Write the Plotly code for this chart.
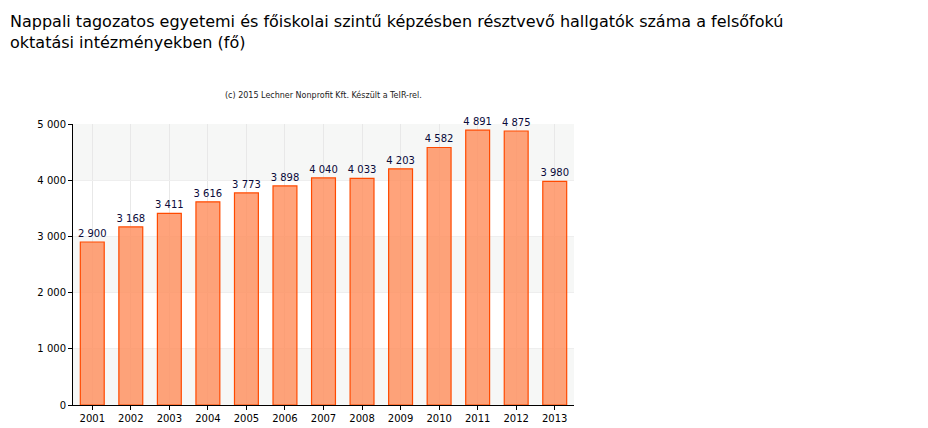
import plotly.graph_objects as go

years = ["2001","2002","2003","2004","2005","2006","2007","2008","2009","2010","2011","2012","2013"]
values = [2900,3168,3411,3616,3773,3898,4040,4033,4203,4582,4891,4875,3980]
labels = [f"{v:,}".replace(",", " ") for v in values]

fig = go.Figure(go.Bar(
    x=years, y=values, text=labels, textposition="outside", cliponaxis=False,
    textfont=dict(family="DejaVu Sans", size=10, color="#0a0a3a"),
    marker=dict(color="rgba(255,140,90,0.8)", line=dict(color="#ff4a00", width=1.2)),
    width=0.62,
))
shapes = []
for y0 in (0, 2000, 4000):
    shapes.append(dict(type="rect", xref="paper", yref="y", x0=0, x1=1, y0=y0, y1=y0+1000,
                       fillcolor="#f6f7f6", line=dict(width=0), layer="below"))
fig.update_layout(
    width=928, height=428, paper_bgcolor="white", plot_bgcolor="white",
    margin=dict(l=65, r=362, t=116, b=31), shapes=shapes, showlegend=False,
    font=dict(family="DejaVu Sans", size=10, color="black"),
    uniformtext=dict(minsize=10, mode="show"),
    annotations=[
        dict(text="Nappali tagozatos egyetemi és főiskolai szintű képzésben résztvevő hallgatók száma a felsőfokú<br>oktatási intézményekben (fő)",
             xref="paper", yref="paper", x=-65/501, y=1, yshift=114, xanchor="left", yanchor="top",
             align="left", showarrow=False,
             font=dict(family="DejaVu Sans", size=16, color="black")),
        dict(text="(c) 2015 Lechner Nonprofit Kft. Készült a TeIR-rel.", xref="paper", yref="paper",
             x=0.5, y=1.0, yshift=29, xanchor="center", yanchor="middle", showarrow=False,
             font=dict(family="DejaVu Sans", size=8, color="#222"))],
    bargap=0.38,
)
fig.update_xaxes(showgrid=True, gridcolor="#e8e8e8", showline=True, linecolor="black", ticks="outside",
                 ticklen=4, tickcolor="black")
fig.update_yaxes(range=[0, 5000], tickvals=[0,1000,2000,3000,4000,5000],
                 ticktext=["0","1 000","2 000","3 000","4 000","5 000"], showgrid=True, gridcolor="#eeeeee",
                 showline=True, linecolor="black", ticks="outside", ticklen=4, tickcolor="black", zeroline=False)
fig.write_html("out.html")
